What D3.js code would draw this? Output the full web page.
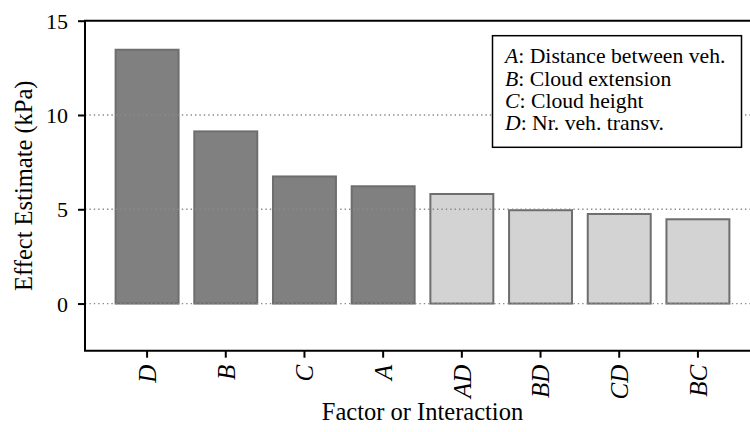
<!DOCTYPE html>
<html>
<head>
<meta charset="utf-8">
<script src="https://cdn.jsdelivr.net/npm/d3@7"></script>
<style>
  html, body { margin: 0; padding: 0; background: #fff; }
  svg { display: block; }
</style>
</head>
<body>
<svg id="chart" width="750" height="432"></svg>
<script>
// Factors and interactions, sorted by effect size
const categories = ["D", "B", "C", "A", "AD", "BD", "CD", "BC"];
const effects = [13.46, 9.13, 6.74, 6.22, 5.81, 4.95, 4.75, 4.47];
// main effects are dark, interactions light
const isMainEffect = [true, true, true, true, false, false, false, false];
const yTicks = [0, 5, 10, 15];
const gridValues = [0, 5, 10];
const legendLetters = ["A", "B", "C", "D"];
const legendTexts = [": Distance between veh.", ": Cloud extension", ": Cloud height", ": Nr. veh. transv."];

const SERIF = "Liberation Serif";
const svg = d3.select("#chart");
const W = 750, H = 432;
const plot = { left: 85, top: 20.7, bottom: 350.7, right: 760 };

const x = d3.scaleBand()
  .domain(categories)
  .range([plot.left, plot.right])
  .paddingInner(0.2)
  .paddingOuter(0.389);

const y = d3.scaleLinear()
  .domain([-2.5, 15])
  .range([plot.bottom, plot.top]);

// bars
svg.append("g")
  .selectAll("rect")
  .data(categories)
  .join("rect")
  .attr("x", d => x(d))
  .attr("width", x.bandwidth())
  .attr("y", (d, i) => y(effects[i]))
  .attr("height", (d, i) => y(0) - y(effects[i]))
  .attr("fill", (d, i) => isMainEffect[i] ? "#808080" : "#d3d3d3")
  .attr("stroke", "#6e6e6e")
  .attr("stroke-width", 2);

// dotted horizontal grid
svg.append("g")
  .selectAll("line")
  .data(gridValues)
  .join("line")
  .attr("x1", plot.left)
  .attr("x2", W)
  .attr("y1", d => y(d))
  .attr("y2", d => y(d))
  .attr("stroke", "#8a8a8a")
  .attr("stroke-width", 1.3)
  .attr("stroke-dasharray", "1.4,3");

// frame: left, top and bottom spines (right one lies beyond the view)
svg.append("path")
  .attr("d", `M${W + 5},${plot.top}H${plot.left}V${plot.bottom}H${W + 5}`)
  .attr("stroke", "#000").attr("stroke-width", 2).attr("fill", "none");

// y axis
const yAxis = svg.append("g")
  .attr("transform", `translate(${plot.left},0)`)
  .call(d3.axisLeft(y).tickValues(yTicks).tickSize(7).tickPadding(10).tickFormat(d3.format("d")));
yAxis.attr("font-family", SERIF).attr("font-size", 22);
yAxis.select(".domain").remove();
yAxis.selectAll(".tick line").attr("stroke", "#000").attr("stroke-width", 2);
yAxis.selectAll(".tick text")
  .attr("fill", "#000")
  .attr("dy", "0.34em")
  .style("font-family", SERIF)
  .style("font-size", "22px");

// x axis with rotated italic labels
const xAxis = svg.append("g")
  .attr("transform", `translate(0,${plot.bottom})`)
  .call(d3.axisBottom(x).tickSize(7).tickPadding(0));
xAxis.attr("font-family", SERIF).attr("font-size", 25);
xAxis.select(".domain").remove();
xAxis.selectAll(".tick line").attr("stroke", "#000").attr("stroke-width", 2);
xAxis.selectAll(".tick text")
  .attr("fill", "#000")
  .attr("transform", "translate(0,14) rotate(-90)")
  .attr("text-anchor", "end")
  .attr("x", 0)
  .attr("y", 0)
  .attr("dy", "0.35em")
  .style("font-family", SERIF)
  .style("font-style", "italic")
  .style("font-size", "25px");

// axis titles, centred on the axes box
svg.append("text")
  .attr("transform", `translate(32,${(plot.top + plot.bottom) / 2}) rotate(-90)`)
  .attr("text-anchor", "middle")
  .style("font-family", SERIF)
  .style("font-size", "24.5px")
  .text("Effect Estimate (kPa)");

svg.append("text")
  .attr("x", (plot.left + plot.right) / 2)
  .attr("y", 420)
  .attr("text-anchor", "middle")
  .style("font-family", SERIF)
  .style("font-size", "24.5px")
  .text("Factor or Interaction");

// legend box
const legend = svg.append("g");
legend.append("rect")
  .attr("x", 492.5).attr("y", 35.7)
  .attr("width", 249).attr("height", 111.6)
  .attr("fill", "#fff").attr("stroke", "#000").attr("stroke-width", 1.5);
const lt = legend.selectAll("text")
  .data(legendLetters)
  .join("text")
  .attr("x", 505)
  .attr("y", (d, i) => 63.3 + i * 22.3)
  .style("font-family", SERIF)
  .style("font-size", "21.7px");
lt.append("tspan").style("font-style", "italic").text(d => d);
lt.append("tspan").text((d, i) => legendTexts[i]);
</script>
</body>
</html>
